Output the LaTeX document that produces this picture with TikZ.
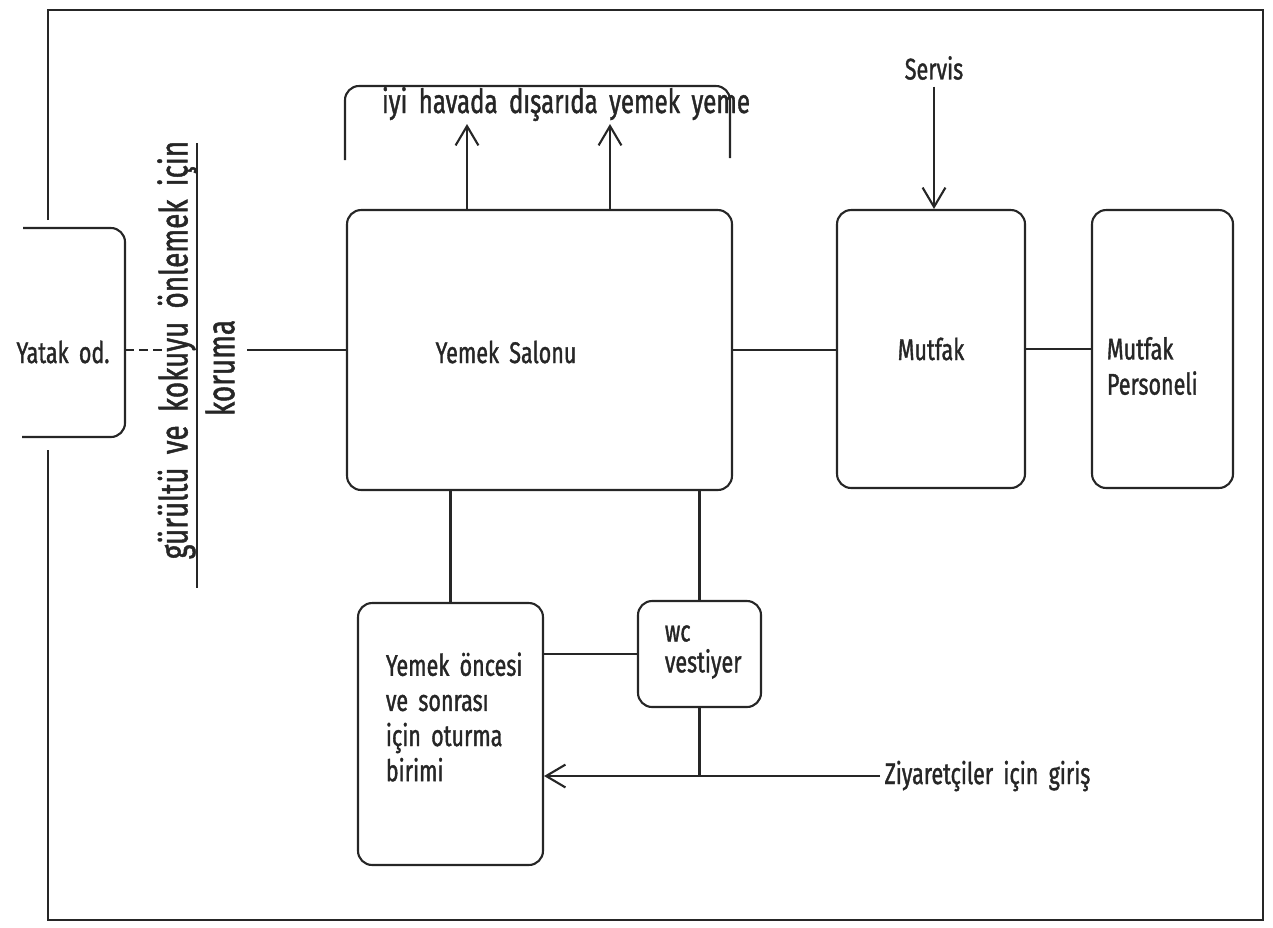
\documentclass[tikz,border=0pt]{standalone}
\usepackage{fontspec}
\setmainfont{Fira Sans}
\newfontfamily\plotfont[FakeStretch=0.72,FakeBold=1.2,WordSpace=1.8]{Fira Sans}
\usetikzlibrary{arrows.meta}
\usetikzlibrary{positioning}
\usetikzlibrary{calc}

\begin{document}
\begin{tikzpicture}[x=0.02cm, y=-0.02cm, line width=1.2pt, draw=black!85,
  every node/.style={text=black!85, font=\plotfont\fontsize{17}{20}\selectfont},
  box/.style={draw, rounded corners=8pt, inner sep=0pt},
  barb/.style={-{Straight Barb[length=11pt, width=13pt]}},
  big/.style={font=\plotfont\fontsize{22}{24}\selectfont},
  tight/.style={inner sep=2pt}]
        % Fix the page size
        \useasboundingbox (0,0) rectangle (1273,927);

        % Draw the outer frame, open where the bedroom sits
        \draw (48,220) -- (48,10) -- (1263,10) -- (1263,920) -- (48,920) -- (48,450);

        % Draw the bedroom, cut by the frame
        \draw[rounded corners=8pt] (23,228) -- (125,228) -- (125,437) -- (22,437);
        \node (yatak) at (63,352) {Yatak od.};
        \coordinate (yatakE) at (125,350);
        \coordinate (dashend) at (163,350);
        \draw[dashed, dash pattern=on 5pt off 3pt] (yatakE) -- (dashend);

        % Draw the buffer note
        \node[big, rotate=90] (gurultu) at (177,350) {gürültü ve kokuyu önlemek için};
        \node[big, rotate=90] (koruma) at (220,368) {koruma};
        \coordinate (barT) at (197,143);
        \coordinate (barB) at (197,588);
        \draw (barT) -- (barB);
        \coordinate (korright) at (247,350);

        % Draw the main rooms
        \node[box, minimum width=7.7cm, minimum height=5.6cm] (salon) at (539.5,350) {};
        \node (salonlbl) at (506,352) {Yemek Salonu};
        \node[box, minimum width=3.76cm, minimum height=5.56cm] (mutfak) at (931,349) {Mutfak};
        \node[box, minimum width=2.82cm, minimum height=5.56cm] (personel) at (1162.5,349) {};
        \node[align=left, anchor=west] (personellbl) at (1100,366) {Mutfak\\Personeli};
        \node[box, minimum width=3.7cm, minimum height=5.24cm] (oturma) at (450.5,734) {};
        \node[align=left, anchor=west] (oturmalbl) at (379,717) {Yemek öncesi\\ve sonrası\\için oturma\\birimi};
        \node[box, minimum width=2.46cm, minimum height=2.12cm] (wc) at (699.5,654) {};
        \node[align=left, anchor=west, font=\plotfont\fontsize{17}{17.6}\selectfont] (wclbl) at (658,652) {wc\\vestiyer};

        % Draw the outdoor area
        \draw[rounded corners=8pt] (345,160) -- (345,86) -- (730,86) -- (730,158);
        \node[font=\plotfont\fontsize{19}{20}\selectfont] (disari) at (566,104) {iyi havada dışarıda yemek yeme};
        \coordinate (up1) at (467,124);
        \coordinate (up2) at (610,124);
        \draw[barb] (salon.north -| up1) -- (up1);
        \draw[barb] (salon.north -| up2) -- (up2);

        % Draw the service entry
        \node (servis) at (934,68) {Servis};
        \draw[barb] (servis.south) -- (servis.south |- mutfak.north);

        % Draw the links between rooms
        \draw (korright) -- (salon.west);
        \draw (salon.east) -- (salon.east -| mutfak.west);
        \draw (mutfak.east) -- (mutfak.east -| personel.west);
        \draw (salon.south -| oturma.north) -- (oturma.north);
        \draw (salon.south -| wc.north) -- (wc.north);
        \draw (oturma.east |- wc.west) -- (wc.west);

        % Draw the visitor entry
        \node[tight, anchor=west] (giris) at (880,776) {Ziyaretçiler için giriş};
        \coordinate (kavsak) at (wc.south |- giris.west);
        \draw (wc.south) -- (kavsak);
        \draw[barb] (giris.west) -- (giris.west -| oturma.east);
      \end{tikzpicture}
\end{document}
